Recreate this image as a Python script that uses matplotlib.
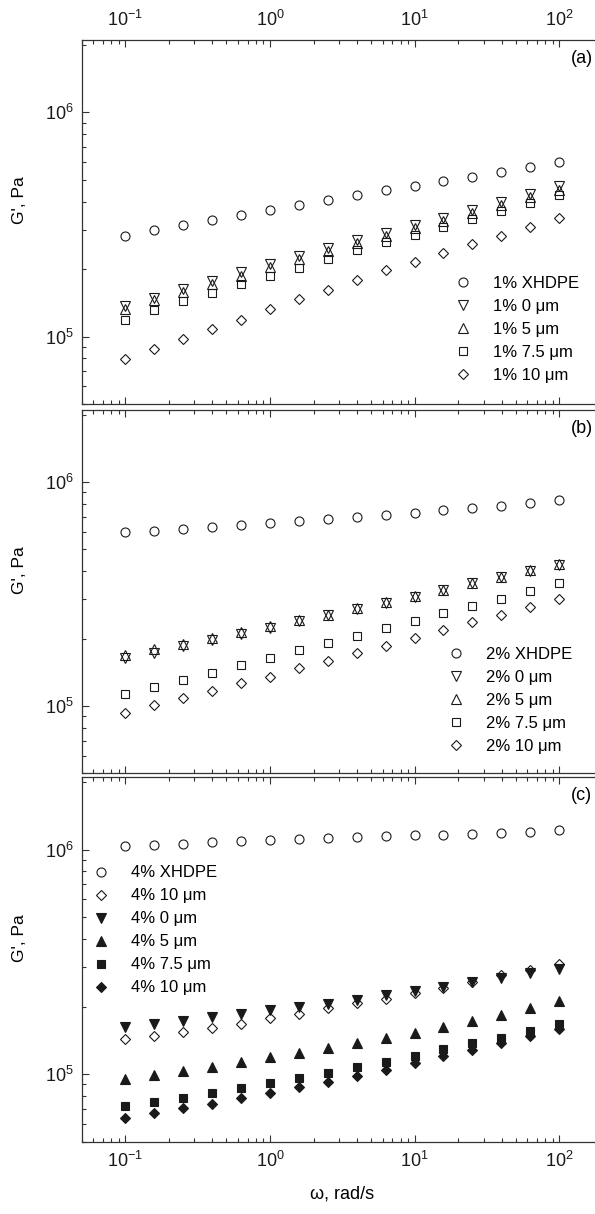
import matplotlib
matplotlib.use("Agg")
import matplotlib.pyplot as plt
from matplotlib.ticker import LogLocator, NullFormatter

plt.rcParams['font.family'] = ['Liberation Sans', 'DejaVu Sans']
plt.rcParams['mathtext.fontset'] = 'custom'
plt.rcParams['mathtext.rm'] = 'Liberation Sans'
plt.rcParams['mathtext.it'] = 'Liberation Sans:italic'
plt.rcParams['mathtext.bf'] = 'Liberation Sans:bold'

# angular frequency, rad/s
omega = [0.1, 0.158, 0.251, 0.398, 0.631, 1.0, 1.58, 2.51, 3.98, 6.31,
         10.0, 15.8, 25.1, 39.8, 63.1, 100.0]

# (a) 1 %
a_xhdpe = [2.81e5, 2.98e5, 3.15e5, 3.31e5, 3.48e5, 3.67e5, 3.86e5, 4.06e5,
           4.28e5, 4.49e5, 4.71e5, 4.92e5, 5.16e5, 5.41e5, 5.69e5, 5.99e5]
a_0um = [1.37e5, 1.49e5, 1.63e5, 1.77e5, 1.93e5, 2.10e5, 2.29e5, 2.49e5,
         2.69e5, 2.91e5, 3.15e5, 3.39e5, 3.68e5, 3.98e5, 4.31e5, 4.67e5]
a_5um = [1.33e5, 1.45e5, 1.58e5, 1.72e5, 1.87e5, 2.04e5, 2.22e5, 2.41e5,
         2.61e5, 2.82e5, 3.05e5, 3.29e5, 3.57e5, 3.86e5, 4.18e5, 4.52e5]
a_75um = [1.19e5, 1.31e5, 1.44e5, 1.57e5, 1.71e5, 1.87e5, 2.03e5, 2.21e5,
          2.42e5, 2.63e5, 2.84e5, 3.08e5, 3.36e5, 3.62e5, 3.94e5, 4.26e5]
a_10um = [7.93e4, 8.78e4, 9.73e4, 1.08e5, 1.19e5, 1.32e5, 1.47e5, 1.62e5,
          1.79e5, 1.97e5, 2.15e5, 2.36e5, 2.58e5, 2.82e5, 3.08e5, 3.38e5]

# (b) 2 %
b_xhdpe = [6.01e5, 6.07e5, 6.20e5, 6.29e5, 6.40e5, 6.55e5, 6.67e5, 6.83e5,
           6.97e5, 7.14e5, 7.29e5, 7.49e5, 7.67e5, 7.86e5, 8.05e5, 8.28e5]
b_0um = [1.63e5, 1.73e5, 1.85e5, 1.97e5, 2.10e5, 2.24e5, 2.385e5, 2.54e5,
         2.71e5, 2.89e5, 3.08e5, 3.30e5, 3.53e5, 3.75e5, 4.02e5, 4.28e5]
b_5um = [1.69e5, 1.79e5, 1.90e5, 2.02e5, 2.14e5, 2.27e5, 2.42e5, 2.56e5,
         2.74e5, 2.91e5, 3.10e5, 3.31e5, 3.54e5, 3.77e5, 4.05e5, 4.31e5]
b_75um = [1.136e5, 1.22e5, 1.31e5, 1.41e5, 1.52e5, 1.64e5, 1.77e5, 1.91e5,
          2.06e5, 2.22e5, 2.40e5, 2.59e5, 2.80e5, 3.01e5, 3.25e5, 3.53e5]
b_10um = [9.34e4, 1.01e5, 1.09e5, 1.17e5, 1.26e5, 1.35e5, 1.47e5, 1.58e5,
          1.72e5, 1.86e5, 2.02e5, 2.18e5, 2.37e5, 2.56e5, 2.78e5, 3.01e5]

# (c) 4 %
c_xhdpe = [1.035e6, 1.049e6, 1.064e6, 1.079e6, 1.090e6, 1.105e6, 1.116e6, 1.128e6,
           1.140e6, 1.147e6, 1.159e6, 1.167e6, 1.179e6, 1.191e6, 1.204e6, 1.220e6]
c_10um_open = [1.435e5, 1.48e5, 1.54e5, 1.60e5, 1.67e5, 1.78e5, 1.86e5, 1.96e5,
               2.07e5, 2.17e5, 2.30e5, 2.43e5, 2.57e5, 2.75e5, 2.91e5, 3.09e5]
c_0um = [1.62e5, 1.67e5, 1.73e5, 1.79e5, 1.86e5, 1.92e5, 1.99e5, 2.06e5,
         2.14e5, 2.24e5, 2.35e5, 2.44e5, 2.57e5, 2.69e5, 2.82e5, 2.95e5]
c_5um = [9.5e4, 9.93e4, 1.035e5, 1.08e5, 1.13e5, 1.19e5, 1.24e5, 1.31e5,
         1.37e5, 1.45e5, 1.52e5, 1.62e5, 1.72e5, 1.84e5, 1.97e5, 2.12e5]
c_75um = [7.22e4, 7.54e4, 7.86e4, 8.25e4, 8.66e4, 9.08e4, 9.59e4, 1.007e5,
          1.07e5, 1.136e5, 1.21e5, 1.29e5, 1.37e5, 1.45e5, 1.55e5, 1.67e5]
c_10um = [6.40e4, 6.74e4, 7.04e4, 7.39e4, 7.81e4, 8.25e4, 8.72e4, 9.24e4,
          9.83e4, 1.04e5, 1.12e5, 1.20e5, 1.28e5, 1.37e5, 1.48e5, 1.59e5]

EC = '#1a1a1a'
# marker, size, filled
sty = {
    'xhdpe': ('o', 6.5, False),
    '0': ('v', 6.8, False),
    '5': ('^', 6.8, False),
    '7.5': ('s', 5.2, False),
    '10': ('D', 4.7, False),
    '0f': ('v', 6.8, True),
    '5f': ('^', 6.8, True),
    '7.5f': ('s', 5.2, True),
    '10f': ('D', 4.7, True),
}

panels = [
    ('(a)', [('xhdpe', a_xhdpe, '1% XHDPE'), ('0', a_0um, '1% 0 μm'),
             ('5', a_5um, '1% 5 μm'), ('7.5', a_75um, '1% 7.5 μm'),
             ('10', a_10um, '1% 10 μm')], (0.719, 0.352)),
    ('(b)', [('xhdpe', b_xhdpe, '2% XHDPE'), ('0', b_0um, '2% 0 μm'),
             ('5', b_5um, '2% 5 μm'), ('7.5', b_75um, '2% 7.5 μm'),
             ('10', b_10um, '2% 10 μm')], (0.705, 0.348)),
    ('(c)', [('xhdpe', c_xhdpe, '4% XHDPE'), ('10', c_10um_open, '4% 10 μm'),
             ('0f', c_0um, '4% 0 μm'), ('5f', c_5um, '4% 5 μm'),
             ('7.5f', c_75um, '4% 7.5 μm'), ('10f', c_10um, '4% 10 μm')],
     (0.024, 0.758)),
]

fig = plt.figure(figsize=(5.95, 12.14), dpi=100)
# axes boxes in figure fraction (the right edge runs past the canvas)
boxes = [(0.1373, 0.6672, 0.876, 0.2998),
         (0.1373, 0.3630, 0.876, 0.2993),
         (0.1373, 0.0596, 0.876, 0.3001)]

for i, (tag, series, legpos) in enumerate(panels):
    ax = fig.add_axes(boxes[i])
    for key, vals, lab in series:
        m, ms, filled = sty[key]
        ax.plot(omega, vals, linestyle='none', marker=m, markersize=ms,
                markerfacecolor=EC if filled else 'none',
                markeredgecolor=EC, markeredgewidth=0.8, label=lab)
    ax.set_xscale('log')
    ax.set_yscale('log')
    ax.set_xlim(0.05, 200)
    ax.set_ylim(5e4, 2.1e6)
    ax.yaxis.set_major_locator(LogLocator(base=10, numticks=10))
    ax.yaxis.set_minor_locator(LogLocator(base=10, subs=range(2, 10), numticks=20))
    ax.yaxis.set_minor_formatter(NullFormatter())
    ax.xaxis.set_minor_formatter(NullFormatter())
    ax.tick_params(which='both', direction='in', top=True, right=False,
                   colors='#333333', labelcolor='#1a1a1a', labelsize=13)
    ax.tick_params(which='major', length=5, width=0.8)
    ax.tick_params(which='minor', length=3, width=0.8)
    ax.tick_params(axis='y', pad=6)
    ax.tick_params(axis='x', pad=7,
                   labeltop=(i == 0), labelbottom=(i == 2))
    for sp in ax.spines.values():
        sp.set_color('#333333')
        sp.set_linewidth(0.9)
    ax.spines['right'].set_visible(False)
    ax.set_ylabel("G', Pa", fontsize=12.5)
    ax.yaxis.set_label_coords(-0.105, 0.56)
    ax.text(0.939, 0.95, tag, transform=ax.transAxes, fontsize=13,
            ha='left', va='center')
    ax.legend(loc='upper left', bbox_to_anchor=legpos, frameon=False,
              fontsize=12, borderpad=0, borderaxespad=0, handlelength=0.8,
              handletextpad=1.4, labelspacing=0.48, markerscale=1.0)
    if i == 2:
        ax.set_xlabel('ω, rad/s', fontsize=13, labelpad=10)

fig.savefig('out.png', dpi=100, facecolor='white')
